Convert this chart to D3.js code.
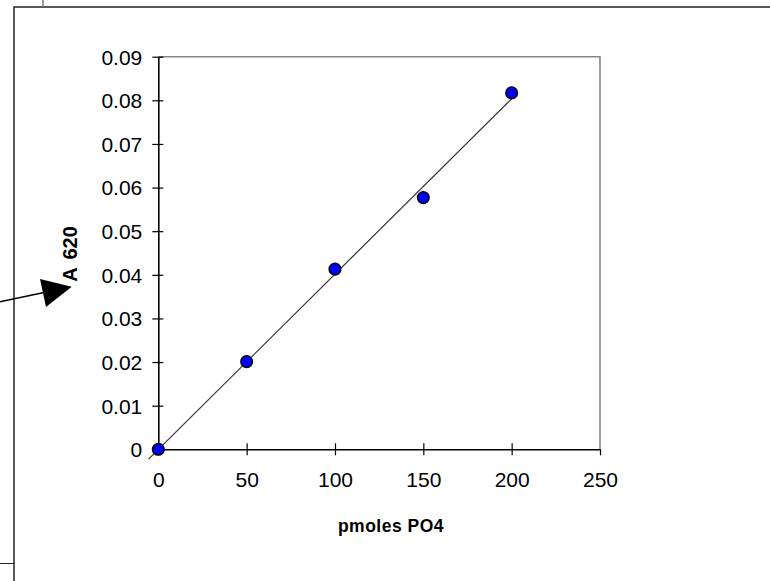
<!DOCTYPE html>
<html lang="en">
<head>
<meta charset="UTF-8">
<title>A 620 vs pmoles PO4</title>
<script src="https://d3js.org/d3.v7.min.js"></script>
<style>
    body { margin: 0; background: #fff; }
    svg { display: block; }
    .tick-label { font-family: "Liberation Sans", Arial, sans-serif; font-size: 21px; fill: #000; }
    .axis-title { font-family: "Liberation Sans", Arial, sans-serif; font-weight: bold; fill: #000; }
</style>
</head>
<body>
<div id="chart"></div>
<script>
    // data
    var pmoles = [0, 50, 100, 150, 200];
    var a620 = [0, 0.0201, 0.0413, 0.0577, 0.0817];
    var xTicks = [0, 50, 100, 150, 200, 250];
    var yTicks = [0, 0.01, 0.02, 0.03, 0.04, 0.05, 0.06, 0.07, 0.08, 0.09];
    var trendFrom = -5.5;   // trendline forecast backward a bit

    function init() {
        var w = 770;
        var h = 581;

        var xScale = d3.scaleLinear().domain([0, 250]).range([158.3, 600]);
        var yScale = d3.scaleLinear().domain([0, 0.09]).range([449.3, 56.7]);

        var svg = d3.select("#chart")
            .append("svg")
            .attr("width", w)
            .attr("height", h);

        // surrounding frame pieces
        svg.append("path")
            .attr("d", "M14,581 L14,7 L770,7")
            .attr("fill", "none")
            .attr("stroke", "#222")
            .attr("stroke-width", 1.5);
        svg.append("line")
            .attr("x1", 43).attr("y1", 0).attr("x2", 43).attr("y2", 7)
            .attr("stroke", "#777").attr("stroke-width", 1.5);
        svg.append("line")
            .attr("x1", 0).attr("y1", 563.5).attr("x2", 14).attr("y2", 563.5)
            .attr("stroke", "#222").attr("stroke-width", 1);

        // arrow pointing at the y title
        svg.append("line")
            .attr("x1", 0).attr("y1", 301.7).attr("x2", 50).attr("y2", 291.3)
            .attr("stroke", "#000").attr("stroke-width", 1.5);
        svg.append("path")
            .attr("d", "M40,279 L71.7,286.7 L46,307 Z")
            .attr("fill", "#000");

        // plot frame (top and right in grey)
        svg.append("path")
            .attr("d", "M" + xScale(0) + "," + yScale(0.09) + " H" + xScale(250) + " V" + yScale(0))
            .attr("fill", "none")
            .attr("stroke", "#858585")
            .attr("stroke-width", 1.6);

        // trendline (least squares)
        var mx = d3.mean(pmoles), my = d3.mean(a620);
        var sxy = d3.sum(pmoles, function(d, i) { return (d - mx) * (a620[i] - my); });
        var sxx = d3.sum(pmoles, function(d) { return (d - mx) * (d - mx); });
        var slope = sxy / sxx;
        var icpt = my - slope * mx;
        var xmax = d3.max(pmoles);
        svg.append("line")
            .attr("x1", xScale(trendFrom)).attr("y1", yScale(icpt + slope * trendFrom))
            .attr("x2", xScale(xmax)).attr("y2", yScale(icpt + slope * xmax))
            .attr("stroke", "#333")
            .attr("stroke-width", 1.2);

        // axes
        var yAxis = svg.append("g")
            .attr("transform", "translate(" + xScale(0) + ",0)")
            .call(d3.axisLeft(yScale).tickValues(yTicks).tickSize(0)
                .tickFormat(function(d) { return d === 0 ? "0" : d3.format(".2f")(d); }));
        yAxis.select(".domain").attr("stroke", "#000").attr("stroke-width", 1.6);
        yAxis.selectAll(".tick line").remove();
        yAxis.selectAll(".tick").append("line")
            .attr("x1", -6).attr("x2", 5)
            .attr("stroke", "#000").attr("stroke-width", 1.2);
        yAxis.selectAll(".tick text")
            .attr("class", "tick-label")
            .attr("x", -16)
            .attr("dy", "0.35em");
        yAxis.attr("font-size", null).attr("font-family", null);

        var xAxis = svg.append("g")
            .attr("transform", "translate(0," + yScale(0) + ")")
            .call(d3.axisBottom(xScale).tickValues(xTicks).tickSize(0));
        xAxis.select(".domain").attr("stroke", "#000").attr("stroke-width", 1.6);
        xAxis.selectAll(".tick line").remove();
        xAxis.selectAll(".tick").append("line")
            .attr("y1", function(d) { return d === 250 ? 0 : -6; })
            .attr("y2", 6)
            .attr("stroke", "#000").attr("stroke-width", 1.2);
        xAxis.selectAll(".tick text")
            .attr("class", "tick-label")
            .attr("y", 30)
            .attr("dy", "0.35em");
        xAxis.attr("font-size", null).attr("font-family", null);

        // points
        svg.selectAll("circle.pt")
            .data(pmoles)
            .enter()
            .append("circle")
            .attr("class", "pt")
            .attr("cx", function(d) { return xScale(d); })
            .attr("cy", function(d, i) { return yScale(a620[i]); })
            .attr("r", 5.8)
            .attr("fill", "#0000ff")
            .attr("stroke", "#000")
            .attr("stroke-width", 1.5);

        // axis titles
        svg.append("text")
            .attr("class", "axis-title")
            .attr("x", 391)
            .attr("y", 532)
            .attr("text-anchor", "middle")
            .style("font-size", "17.5px")
            .style("letter-spacing", "0.5px")
            .text("pmoles PO4");

        svg.append("text")
            .attr("class", "axis-title")
            .attr("transform", "translate(77,254) rotate(-90)")
            .attr("text-anchor", "middle")
            .style("font-size", "20px")
            .style("word-spacing", "3px")
            .text("A 620");
    }

    init();
</script>
</body>
</html>
